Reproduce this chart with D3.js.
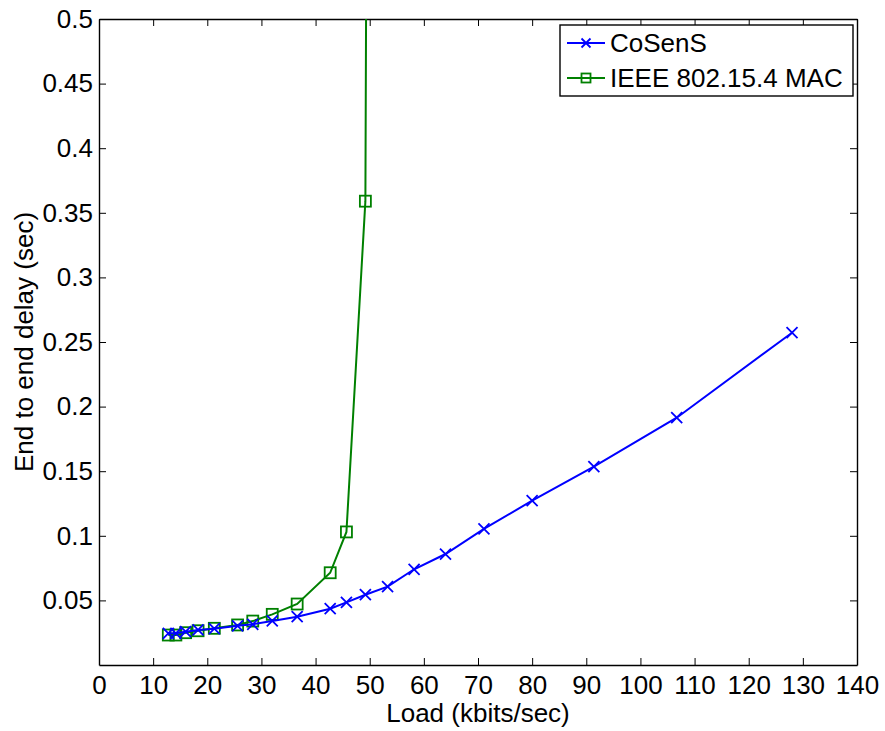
<!DOCTYPE html>
<html>
<head>
<meta charset="utf-8">
<script src="https://cdn.jsdelivr.net/npm/d3@7"></script>
<style>
  body { margin: 0; background: #fff; }
  svg text { font-family: Arial, "Liberation Sans", sans-serif; fill: #000; }
</style>
</head>
<body>
<div id="chart"></div>
<script>
// load values (kbits/sec) shared by both runs
const cosensLoad = [12.8, 14.2, 16, 18.3, 21.3, 25.6, 28.4, 32, 36.6, 42.7, 45.7, 49.2, 53.3, 58.2, 64, 71.1, 80, 91.4, 106.7, 128];
const cosensDelay = [0.0245, 0.0245, 0.0258, 0.0271, 0.0281, 0.0303, 0.0315, 0.0341, 0.0374, 0.0436, 0.0485, 0.0544, 0.0606, 0.0741, 0.0859, 0.1053, 0.1272, 0.1535, 0.1914, 0.2572];

// 802.15.4 saturates after ~49 kbits/sec, last point runs off the top
const ieeeLoad = [12.8, 14.2, 16, 18.3, 21.3, 25.6, 28.4, 32, 36.6, 42.7, 45.7, 49.2, 53.3];
const ieeeDelay = [0.0232, 0.0232, 0.025, 0.0265, 0.0284, 0.031, 0.034, 0.0392, 0.0472, 0.0714, 0.103, 0.359, 5.0];

const xTicks = [0, 10, 20, 30, 40, 50, 60, 70, 80, 90, 100, 110, 120, 130, 140];
const yTicks = [0.05, 0.1, 0.15, 0.2, 0.25, 0.3, 0.35, 0.4, 0.45, 0.5];

const seriesNames = ['CoSenS', 'IEEE 802.15.4 MAC'];

const width = 885;
const height = 731;
const margin = { top: 19, right: 28, bottom: 66, left: 99 };
const plotW = width - margin.left - margin.right;
const plotH = height - margin.top - margin.bottom;

const svg = d3.select('#chart').append('svg')
  .attr('width', width)
  .attr('height', height);

const g = svg.append('g')
  .attr('transform', `translate(${margin.left},${margin.top})`);

const x = d3.scaleLinear().domain([0, 140]).range([0, plotW]);
const y = d3.scaleLinear().domain([0, 0.5]).range([plotH, 0]);

g.append('defs').append('clipPath')
  .attr('id', 'plot-clip')
  .append('rect')
  .attr('width', plotW)
  .attr('height', plotH);

const fontSize = 26;

// bottom axis with labels
const xAxis = g.append('g')
  .attr('transform', `translate(0,${plotH})`)
  .call(d3.axisBottom(x).tickValues(xTicks).tickSize(-7).tickSizeOuter(0).tickPadding(11));

// left axis with labels
const yAxis = g.append('g')
  .call(d3.axisLeft(y).tickValues(yTicks).tickFormat(d3.format('')).tickSize(-7).tickSizeOuter(0).tickPadding(6));

// top + right: ticks only
const topAxis = g.append('g')
  .call(d3.axisTop(x).tickValues(xTicks).tickSize(-7).tickSizeOuter(0).tickFormat(''));

const rightAxis = g.append('g')
  .attr('transform', `translate(${plotW},0)`)
  .call(d3.axisRight(y).tickValues(yTicks).tickSize(-7).tickSizeOuter(0).tickFormat(''));

[xAxis, yAxis, topAxis, rightAxis].forEach(a => {
  a.selectAll('text').style('font-size', `${fontSize}px`).style('font-family', 'Arial, "Liberation Sans", sans-serif');
  a.selectAll('.domain').attr('stroke', '#000').attr('stroke-width', 1.4);
  a.selectAll('.tick line').attr('stroke', '#000').attr('stroke-width', 1);
});

// axis titles
svg.append('text')
  .attr('x', margin.left + plotW / 2)
  .attr('y', 722)
  .attr('text-anchor', 'middle')
  .style('font-size', `${fontSize}px`)
  .text('Load (kbits/sec)');

svg.append('text')
  .attr('transform', `translate(24,${margin.top + plotH / 2}) rotate(-90)`)
  .attr('text-anchor', 'middle')
  .attr('dy', '0.35em')
  .style('font-size', `${fontSize}px`)
  .text('End to end delay (sec)');

const line = d3.line().x(d => x(d[0])).y(d => y(d[1]));

const cosens = d3.zip(cosensLoad, cosensDelay);
const ieee = d3.zip(ieeeLoad, ieeeDelay);

const plot = g.append('g').attr('clip-path', 'url(#plot-clip)');

function drawX(sel, cx, cy, r, color) {
  sel.append('path')
    .attr('d', `M${cx - r},${cy - r}L${cx + r},${cy + r}M${cx - r},${cy + r}L${cx + r},${cy - r}`)
    .attr('stroke', color)
    .attr('stroke-width', 1.8)
    .attr('fill', 'none');
}

function drawSquare(sel, cx, cy, r, color) {
  sel.append('rect')
    .attr('x', cx - r)
    .attr('y', cy - r)
    .attr('width', 2 * r)
    .attr('height', 2 * r)
    .attr('stroke', color)
    .attr('stroke-width', 1.8)
    .attr('fill', 'none');
}

const blue = '#0000ff';
const green = '#008000';

// green series first, blue on top
plot.append('path')
  .datum(ieee)
  .attr('d', line)
  .attr('fill', 'none')
  .attr('stroke', green)
  .attr('stroke-width', 2);

ieee.forEach(d => drawSquare(plot, x(d[0]), y(d[1]), 5.5, green));

plot.append('path')
  .datum(cosens)
  .attr('d', line)
  .attr('fill', 'none')
  .attr('stroke', blue)
  .attr('stroke-width', 2);

cosens.forEach(d => drawX(plot, x(d[0]), y(d[1]), 5.5, blue));

// legend
const legend = svg.append('g').attr('transform', 'translate(560,25)');

legend.append('rect')
  .attr('width', 293)
  .attr('height', 71)
  .attr('fill', '#fff')
  .attr('stroke', '#000')
  .attr('stroke-width', 1.4);

const legendRows = [
  { name: seriesNames[0], color: blue, marker: drawX, y: 18 },
  { name: seriesNames[1], color: green, marker: drawSquare, y: 53 },
];

legendRows.forEach(row => {
  legend.append('line')
    .attr('x1', 7).attr('x2', 45)
    .attr('y1', row.y).attr('y2', row.y)
    .attr('stroke', row.color)
    .attr('stroke-width', 2);
  row.marker(legend, 26, row.y, 4.5, row.color);
  legend.append('text')
    .attr('x', 50)
    .attr('y', row.y)
    .attr('dy', '0.35em')
    .style('font-size', `${fontSize}px`)
    .text(row.name);
});
</script>
</body>
</html>
